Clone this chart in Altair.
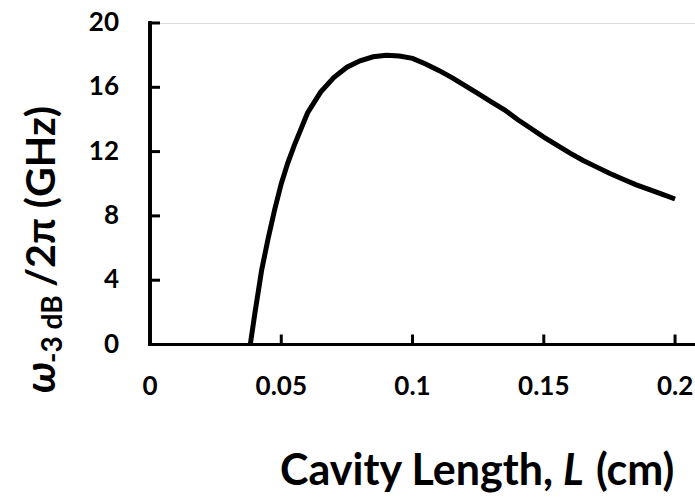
import altair as alt
import pandas as pd

# Curve values
length_cm = [0.0382, 0.040, 0.0425, 0.045, 0.0475, 0.050, 0.0525, 0.055, 0.060, 0.065,
             0.070, 0.075, 0.080, 0.085, 0.090, 0.095, 0.100, 0.105, 0.110, 0.115,
             0.120, 0.125, 0.130, 0.135, 0.140, 0.145, 0.150, 0.155, 0.160, 0.165,
             0.170, 0.175, 0.180, 0.185, 0.190, 0.195, 0.200]
bandwidth_ghz = [0.0, 2.0, 4.6, 6.6, 8.4, 10.0, 11.3, 12.4, 14.4, 15.7,
                 16.6, 17.25, 17.65, 17.9, 18.0, 17.95, 17.8, 17.45, 17.05, 16.6,
                 16.1, 15.6, 15.1, 14.6, 14.0, 13.45, 12.9, 12.4, 11.9, 11.45,
                 11.05, 10.65, 10.3, 9.95, 9.65, 9.35, 9.05]

x_tick_values = [0, 0.05, 0.1, 0.15, 0.2]
x_tick_labels = ["0", "0.05", "0.1", "0.15", "0.2"]
y_tick_values = [0, 4, 8, 12, 16, 20]
y_tick_labels = ["0", "4", "8", "12", "16", "20"]
x_domain = [0, 0.2076]
y_domain = [0, 20]

FONT = "Lato, 'Open Sans', sans-serif"
W, H = 545, 321.5

df = pd.DataFrame({"L": length_cm, "f": bandwidth_ghz})
xt = pd.DataFrame({"L": x_tick_values, "f": [0.0] * len(x_tick_values),
                   "lab": x_tick_labels})
yt = pd.DataFrame({"L": [0.0] * len(y_tick_values), "f": y_tick_values,
                   "lab": y_tick_labels})

xscale = alt.Scale(domain=x_domain, nice=False, zero=False)
yscale = alt.Scale(domain=y_domain, nice=False)
X = alt.X("L:Q", scale=xscale, axis=None)
Y = alt.Y("f:Q", scale=yscale, axis=None)

# axis lines
x_domain_line = alt.Chart(xt).mark_rule(color="black", strokeWidth=3, strokeCap="square").encode(
    x=alt.X(datum=x_domain[0], type="quantitative", scale=xscale, axis=None),
    x2=alt.datum(x_domain[1]),
    y=alt.Y(datum=0, type="quantitative", scale=yscale, axis=None))
y_domain_line = alt.Chart(yt).mark_rule(color="black", strokeWidth=3, strokeCap="square").encode(
    x=alt.X(datum=0, type="quantitative", scale=xscale, axis=None),
    y=alt.Y(datum=y_domain[0], type="quantitative", scale=yscale, axis=None),
    y2=alt.datum(y_domain[1]))

# inward ticks
xticks = alt.Chart(xt).transform_filter("datum.L > 0").mark_rule(
    color="black", strokeWidth=3, y2Offset=-10).encode(x=X, y=Y, y2="f:Q")
yticks = alt.Chart(yt).mark_rule(color="black", strokeWidth=3, x2Offset=10).encode(
    x=X, x2="L:Q", y=Y)

# tick labels
xlabels = alt.Chart(xt).mark_text(font=FONT, fontSize=26, fontWeight="bold", color="black",
                                  align="center", baseline="top", dy=29).encode(
    x=X, y=Y, text="lab:N")
ylabels = alt.Chart(yt).mark_text(font=FONT, fontSize=26, fontWeight="bold", color="black",
                                  align="right", baseline="middle", dx=-31).encode(
    x=X, y=Y, text="lab:N")

line = alt.Chart(df).mark_line(color="black", strokeWidth=5).encode(x=X, y=Y)

TS = 43
def txt(s, x, y, size=TS, style="normal", align="left", angle=0):
    return alt.Chart(pd.DataFrame({"t": [s]})).mark_text(
        font=FONT, fontSize=size, fontWeight="bold", fontStyle=style, color="black",
        align=align, baseline="alphabetic", angle=angle).encode(
        text="t:N", x=alt.value(x), y=alt.value(y))

titles = [
    txt("Cavity Length,", 403, 462, align="right"),
    txt("L", 413, 462, style="italic"),
    txt("(cm)", 446, 462),
    txt("ω", -95, 370, size=42, style="italic", angle=270),
    txt("-3 dB", -88, 340, size=28, angle=270),
    txt("/2π (GHz)", -95, 264, size=41, angle=270),
]

chart = alt.layer(x_domain_line, y_domain_line, xticks, yticks, line,
                  xlabels, ylabels, *titles).properties(
    width=W, height=H,
    autosize=alt.AutoSizeParams(type="none"),
    padding={"left": 150, "top": 23, "right": 0, "bottom": 154},
).configure_view(stroke=None).configure(background="white")

chart.save("out.html", embed_options={"renderer": "svg", "actions": False})
